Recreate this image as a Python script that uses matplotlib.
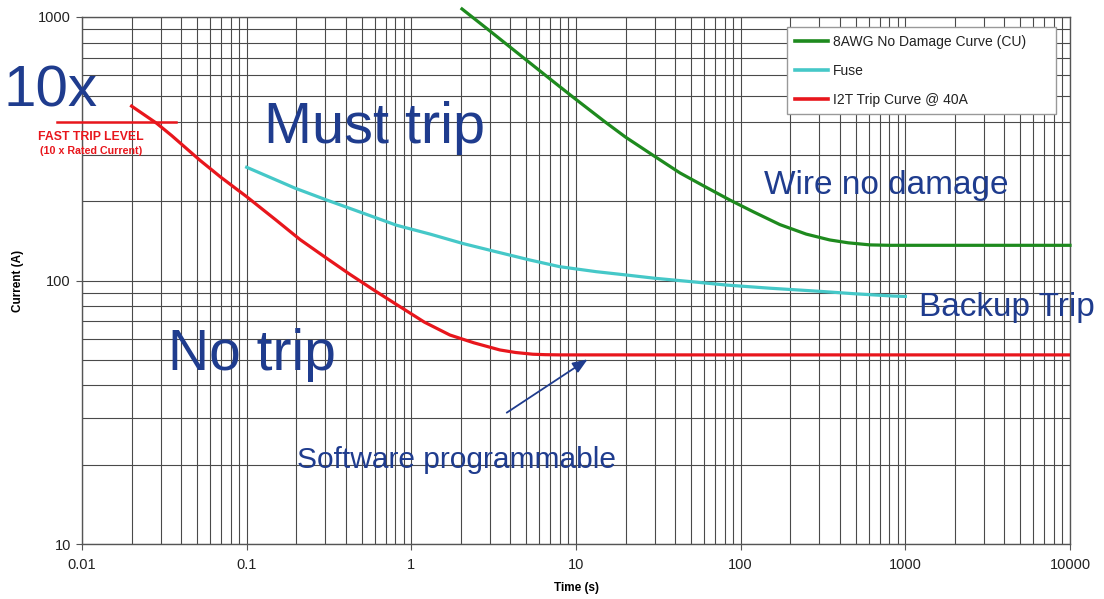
import numpy as np
import matplotlib
matplotlib.use("Agg")
import matplotlib.pyplot as plt
from matplotlib.ticker import LogLocator, NullFormatter
from matplotlib.transforms import blended_transform_factory

plt.rcParams['font.family'] = ['Liberation Sans', 'DejaVu Sans']

# ---- data ----
wire_t = [2.03, 3, 5, 7, 9.57, 15, 20, 30, 42.8, 60, 86, 120, 173, 250, 348, 450, 610, 800, 1000, 10000]
wire_I = [1073, 885, 686, 580, 497, 400, 350, 296, 256, 228, 202, 182, 163, 150, 142.5, 139, 136.5, 136, 136, 136]

fuse_t = [0.1, 0.197, 0.3, 0.511, 0.815, 1.3, 2.07, 3.2, 5.25, 7.98, 13.3, 20, 30, 50, 82, 150, 300, 500, 843, 1000]
fuse_I = [269, 224, 203, 180, 162, 150, 138, 129, 119.6, 112.8, 108, 105, 102, 99, 96.1, 93.5, 91, 89, 87.3, 87]

trip_t = [0.02, 0.0284, 0.035, 0.052, 0.07, 0.1, 0.15, 0.211, 0.3, 0.424, 0.6, 0.815, 1.2, 1.715, 2.4, 3.45, 4.3, 5.47, 6.5, 8, 10000]
trip_I = [459, 395, 355, 286, 246, 208, 170, 143, 122.5, 105.5, 91.5, 81, 69.5, 62.1, 58, 54.5, 53.3, 52.5, 52.3, 52.2, 52.2]

series_labels = ["8AWG No Damage Curve (CU)", "Fuse", "I2T Trip Curve @ 40A"]
fast_trip_level = 400  # 10 x rated current (40 A)

xticks = [0.01, 0.1, 1, 10, 100, 1000, 10000]
xtick_labels = ["0.01", "0.1", "1", "10", "100", "1000", "10000"]
yticks = [10, 100, 1000]
ytick_labels = ["10", "100", "1000"]

GREEN = "#1e8a1e"
CYAN = "#45c8c8"
RED = "#e8161c"
BLUE = "#1f3c8e"
GRID = "#4a4a4a"

W, H = 1104, 599
fig = plt.figure(figsize=(W / 100, H / 100), dpi=100)
fig.patch.set_facecolor("white")
ax = fig.add_axes([82 / W, 1 - 544 / H, (1070 - 82) / W, (544 - 17) / H])

ax.set_xscale("log")
ax.set_yscale("log")
ax.set_xlim(0.01, 10000)
ax.set_ylim(10, 1000)

ax.plot(wire_t, wire_I, color=GREEN, lw=2.3, label=series_labels[0], clip_on=False,
        zorder=4, solid_joinstyle="round")
ax.plot(fuse_t, fuse_I, color=CYAN, lw=2.3, label=series_labels[1], zorder=4,
        solid_joinstyle="round")
ax.plot(trip_t, trip_I, color=RED, lw=2.3, label=series_labels[2], zorder=4,
        solid_joinstyle="round")

# grid
ax.xaxis.set_minor_locator(LogLocator(base=10, subs=np.arange(2, 10), numticks=100))
ax.yaxis.set_minor_locator(LogLocator(base=10, subs=np.arange(2, 10), numticks=100))
ax.xaxis.set_minor_formatter(NullFormatter())
ax.yaxis.set_minor_formatter(NullFormatter())
ax.set_xticks(xticks, xtick_labels)
ax.set_yticks(yticks, ytick_labels)
ax.grid(True, which="both", color=GRID, lw=0.8)
ax.set_axisbelow(True)
ax.tick_params(which="major", length=4, width=0.8, color="#555555", labelsize=10.5,
               labelcolor="#222222")
ax.tick_params(axis="x", which="major", pad=6)
ax.tick_params(axis="y", which="major", pad=4)
ax.tick_params(which="minor", length=0)
for s in ax.spines.values():
    s.set_color("#555555")
    s.set_linewidth(1.0)

ax.set_xlabel("Time (s)", fontsize=8.5, fontweight="bold", labelpad=7)
ax.set_ylabel("Current (A)", fontsize=8.5, fontweight="bold", labelpad=10)

leg = ax.legend(loc="upper left",
                bbox_to_anchor=(787 / W, 1 - 111 / H, (1056 - 787) / W, (111 - 27) / H),
                bbox_transform=fig.transFigure, mode="expand", borderaxespad=0,
                fontsize=10, frameon=True, fancybox=False, framealpha=1,
                edgecolor="#999999", borderpad=0.55, labelspacing=1.08,
                handlelength=2.4, handletextpad=0.35)
leg.get_frame().set_linewidth(1.0)
for t in leg.get_texts():
    t.set_color("#222222")
for l in leg.get_lines():
    l.set_linewidth(2.6)

# fast trip level marker
btf = blended_transform_factory(ax.transAxes, ax.transData)
ax.plot([-0.0253, 0.0951], [fast_trip_level, fast_trip_level], color=RED, lw=1.8,
        transform=btf, clip_on=False, zorder=5)

def ftext(px, py, s, **kw):
    fig.text(px / W, 1 - py / H, s, **kw)

ftext(91, 140, "FAST TRIP LEVEL", color=RED, fontsize=8.8, fontweight="bold",
      ha="center", va="baseline")
ftext(91, 154, "(10 x Rated Current)", color=RED, fontsize=7.7, fontweight="bold",
      ha="center", va="baseline")

ftext(4, 107, "10x", color=BLUE, fontsize=42, ha="left", va="baseline")
ftext(264, 143, "Must trip", color=BLUE, fontsize=41.5, ha="left", va="baseline")
ftext(168, 370, "No trip", color=BLUE, fontsize=41, ha="left", va="baseline")
ftext(764, 194, "Wire no damage", color=BLUE, fontsize=24, ha="left", va="baseline")
ftext(919, 316, "Backup Trip", color=BLUE, fontsize=24, ha="left", va="baseline")
ftext(297, 468, "Software programmable", color=BLUE, fontsize=21.5, ha="left", va="baseline")

ax.annotate("", xy=(0.5118, 0.3505), xytext=(0.4299, 0.2492),
            xycoords="axes fraction", textcoords="axes fraction",
            arrowprops=dict(arrowstyle="-|>,head_length=0.9,head_width=0.35",
                            color=BLUE, lw=1.3, shrinkA=0, shrinkB=0), zorder=6)

fig.savefig("out.png", dpi=100, facecolor="white")
